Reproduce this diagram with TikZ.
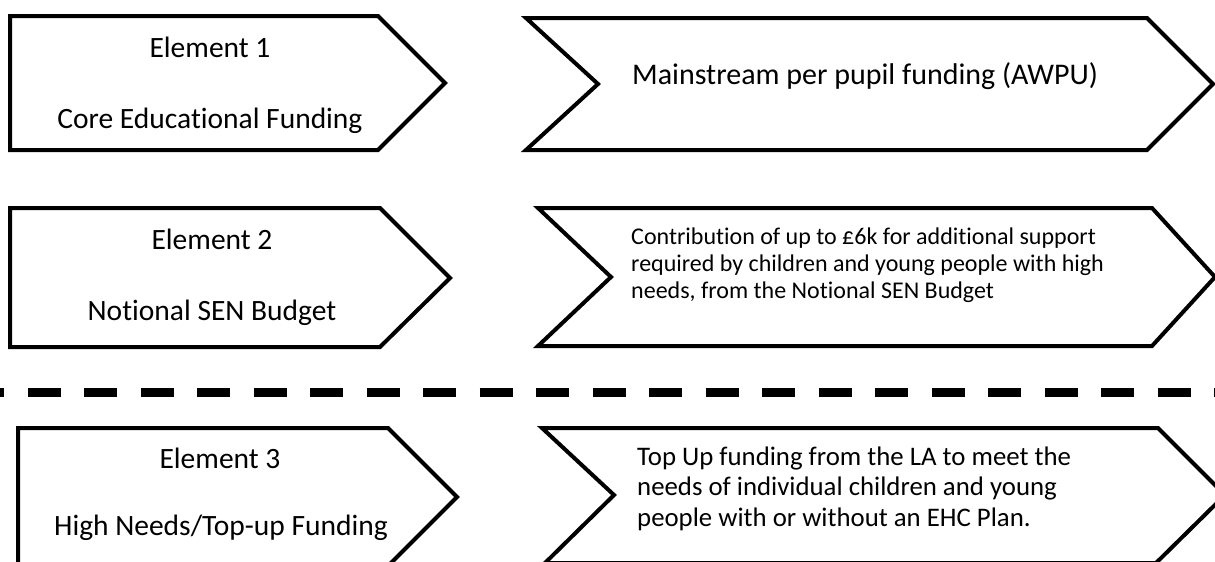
\documentclass[tikz,border=0pt]{standalone}
\usepackage{fontspec}
\setmainfont[Ligatures={NoCommon}]{Carlito}
\begin{document}
\begin{tikzpicture}[x=1pt,y=-1pt,
  shapeline/.style={draw=black,line width=4pt,fill=white},
  titletext/.style={inner sep=0pt,anchor=base,font=\fontsize{29.5}{35}\selectfont},
  desctext/.style={inner sep=0pt,anchor=base west},
  divider/.style={draw=black,line width=9pt,dash pattern=on 33pt off 23.5pt,dash phase=29pt}]
\useasboundingbox (0,0) rectangle (1215,562);
\begin{scope}
\clip (0,0) rectangle (1215,562);
% left pentagons
\path[shapeline] (10,16) -- (378,16) -- (445,83) -- (378,150) -- (10,150) -- cycle;
\path[shapeline] (10,208) -- (380,208) -- (450,278) -- (380,347) -- (10,347) -- cycle;
\path[shapeline] (18,428) -- (388,428) -- (457,497) -- (388,566) -- (18,566) -- cycle;
% right chevrons
\path[shapeline] (526,18) -- (1147,18) -- (1213,84) -- (1147,150) -- (526,150) -- (598,84) -- cycle;
\path[shapeline] (538,208) -- (1152,208) -- (1215,277) -- (1152,346) -- (538,346) -- (611,277) -- cycle;
\path[shapeline] (542,428) -- (1158,428) -- (1225,495) -- (1156,563) -- (545,563) -- (614,495) -- cycle;
% divider
\coordinate (dl) at (0,392);
\coordinate (dr) at (1215,392);
\draw[divider] (dl) -- (dr);
\end{scope}
% texts
\node[titletext] (e1) at (210,57) {Element 1};
\node[titletext] (e1b) at (210,128) {Core Educational Funding};
\node[titletext] (e2) at (212,249) {Element 2};
\node[titletext] (e2b) at (212,320) {Notional SEN Budget};
\node[titletext] (e3) at (220,468) {Element 3};
\node[titletext] (e3b) at (221,535) {High Needs/Top-up Funding};
\node[desctext,font=\fontsize{30}{36}\selectfont] (d1) at (632,84) {Mainstream per pupil funding (AWPU)};
\node[desctext] (d2) at (631,244) {\parbox[t]{560pt}{\fontsize{24}{27}\selectfont\raggedright
Contribution of up to £6k for additional support\\
required by children and young people with high\\
needs, from the Notional SEN Budget}};
\node[desctext] (d3) at (637,465) {\parbox[t]{560pt}{\fontsize{26.8}{30.5}\selectfont\raggedright
Top Up funding from the LA to meet the\\
needs of individual children and young\\
people with or without an EHC Plan.}};
\end{tikzpicture}
\end{document}
